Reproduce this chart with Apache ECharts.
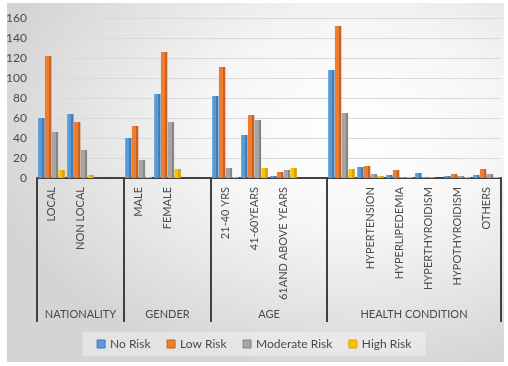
<!DOCTYPE html>
<html>
<head>
<meta charset="utf-8">
<script src="https://cdn.jsdelivr.net/npm/echarts@6/dist/echarts.min.js"></script>
<style>
html,body{margin:0;padding:0;background:#ffffff;}
#bg{position:absolute;left:7px;top:3px;width:497px;height:359px;
background:radial-gradient(ellipse 75% 70% at 70% 35%, #ffffff 0%, #f6f6f6 40%, #d4d4d4 100%);}
#chart{position:absolute;left:0;top:0;width:508px;height:366px;}
</style>
</head>
<body>
<div id="bg"></div>
<div id="chart"></div>
<script>
// Categories (blank entries are spacer / unlabeled categories)
var categories = ['LOCAL','NON LOCAL',' ','MALE','FEMALE','  ','21-40 YRS','41-60YEARS','61AND ABOVE YEARS','   ','    ','HYPERTENSION','HYPERLIPEDEMIA','HYPERTHYROIDISM','HYPOTHYROIDISM','OTHERS'];
// Group labels and the category index where each group starts
var groups = ['NATIONALITY','GENDER','AGE','HEALTH CONDITION'];
var groupStarts = [0, 3, 6, 10, 16];
var seriesNames = ['No Risk','Low Risk','Moderate Risk','High Risk'];
var noRisk       = [60, 64, null, 40, 84, null, 82, 43, 2, null, 108, 11, 3, 5, 2, 3];
var lowRisk      = [122, 56, null, 52, 126, null, 111, 63, 6, null, 152, 12, 8, 1, 4, 9];
var moderateRisk = [46, 28, null, 18, 56, null, 10, 58, 8, null, 65, 4, 1, 1, 2, 4];
var highRisk     = [8, 3, null, 1, 9, null, 1, 10, 10, null, 9, 2, 1, 0, 1, 1];
var yTicks = [0, 20, 40, 60, 80, 100, 120, 140, 160];

var baseColors = ['#5B9BD5','#ED7D31','#A5A5A5','#FFC000'];
var sideColors = ['#3F7EBB','#C8621C','#858585','#D9A300'];
var seriesData = [noRisk, lowRisk, moderateRisk, highRisk];

var chart = echarts.init(document.getElementById('chart'));
var font = 'Lato, "Open Sans", sans-serif';
var textColor = '#4a4a4a';

var groupCenters = {};
for (var g = 0; g < groups.length; g++) {
  groupCenters[((groupStarts[g] + groupStarts[g+1]) / 2).toFixed(1)] = groups[g];
}

var series = seriesNames.map(function (name, i) {
  return {
    name: name,
    type: 'bar',
    xAxisIndex: 0,
    data: seriesData[i],
    barGap: '6%',
    barCategoryGap: '8%',
    itemStyle: {
      color: new echarts.graphic.LinearGradient(0, 0, 1, 0, [
        {offset: 0, color: baseColors[i]},
        {offset: 0.62, color: baseColors[i]},
        {offset: 0.62, color: sideColors[i]},
        {offset: 1, color: sideColors[i]}
      ])
    }
  };
});

chart.setOption({
  animation: false,
  textStyle: {fontFamily: font},
  grid: {left: 37, right: 7, top: 18, bottom: 188},
  legend: {
    bottom: 10,
    left: 'center',
    icon: 'rect',
    itemWidth: 8,
    itemHeight: 8,
    itemGap: 16,
    padding: [6, 14],
    backgroundColor: 'rgba(255,255,255,0.35)',
    textStyle: {color: textColor, fontSize: 12, fontFamily: font},
    data: seriesNames.map(function (n, i) {
      return {name: n, itemStyle: {color: baseColors[i], borderColor: sideColors[i], borderWidth: 1}};
    })
  },
  xAxis: [{
    type: 'category',
    data: categories,
    axisLine: {lineStyle: {color: '#404040', width: 2}},
    axisTick: {
      show: true,
      length: 144,
      lineStyle: {color: '#404040', width: 2},
      interval: function (idx) { return groupStarts.indexOf(idx) >= 0; }
    },
    axisLabel: {
      interval: 0,
      rotate: 90,
      margin: 9,
      color: textColor,
      fontSize: 11,
      fontFamily: font
    }
  }, {
    type: 'value',
    position: 'bottom',
    min: 0,
    max: 16,
    interval: 0.5,
    offset: 125,
    axisLine: {show: false},
    axisTick: {show: false},
    splitLine: {show: false},
    axisLabel: {
      margin: 6,
      color: textColor,
      fontSize: 11,
      fontFamily: font,
      showMinLabel: true,
      showMaxLabel: true,
      formatter: function (v) {
        var k = Number(v).toFixed(1);
        return groupCenters[k] || '';
      }
    }
  }],
  yAxis: {
    type: 'value',
    min: yTicks[0],
    max: yTicks[yTicks.length - 1],
    interval: 20,
    axisLine: {show: false},
    axisTick: {show: false},
    axisLabel: {color: textColor, fontSize: 12, margin: 10, fontFamily: font},
    splitLine: {lineStyle: {color: '#d9d9d9', width: 1}}
  },
  series: series
});
</script>
</body>
</html>
